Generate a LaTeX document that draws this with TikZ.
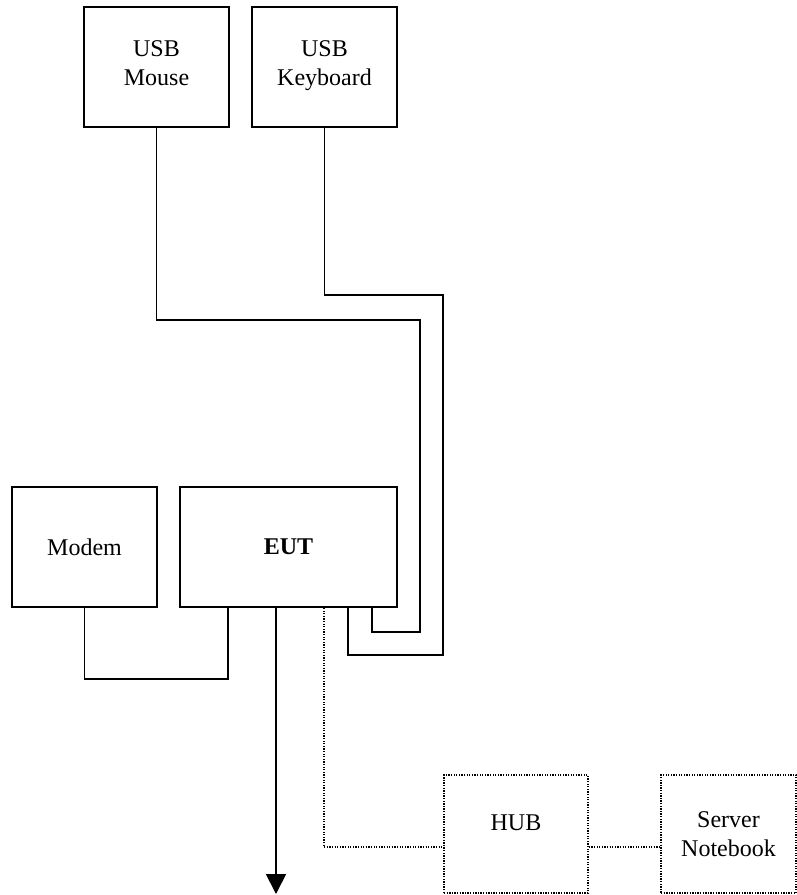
\documentclass[tikz,border=0pt]{standalone}
\usepackage{fontspec}
\setmainfont{Liberation Serif}
\usetikzlibrary{arrows.meta}
\usetikzlibrary{positioning}

\tikzset{
  unit/.style={draw,line width=1.8pt,minimum height=120pt,inner sep=0pt,align=center,
    font=\fontsize{24}{29}\selectfont},
  lanbox/.style={unit,solid,line width=1.4pt,dash pattern=on 1.3pt off 1.3pt,minimum height=118pt},
  cable/.style={line width=1.8pt},
  lan/.style={line width=1.4pt,dash pattern=on 1.3pt off 1.3pt}
}

\begin{document}
\begin{tikzpicture}[line cap=butt,line join=miter,>={Triangle[length=20pt,width=20pt]},x=1pt,y=-1pt]
  \useasboundingbox (0,0) rectangle (797,895);
  % devices
  \node[unit,minimum width=145pt] (mouse) at (156.5,67) {USB\\Mouse\\[-21pt]\mbox{}};
  \node[unit,minimum width=145pt] (keyboard) at (324.5,67) {USB\\Keyboard\\[-21pt]\mbox{}};
  \node[unit,minimum width=145pt] (modem) at (84.5,547) {Modem};
  \node[unit,minimum width=217pt] (eut) at (288.5,547) {\textbf{EUT}};
  \node[lanbox,minimum width=144pt] (hub) at (516,834) {HUB\\[-6pt]\mbox{}};
  \node[lanbox,minimum width=135pt] (server) at (728.5,834) {Server\\Notebook};
  % bends of the cables
  \coordinate (m1) at (420,320);
  \coordinate (m2) at (372,632);
  \coordinate (k1) at (443,295);
  \coordinate (k2) at (348,655);
  \coordinate (d1) at (228,679);
  \coordinate (out) at (276,894);
  \coordinate (l1) at (324,847);
  \draw[cable] (mouse.south) |- (m1) |- (m2) -- (m2 |- eut.south);
  \draw[cable] (keyboard.south) |- (k1) |- (k2) -- (k2 |- eut.south);
  \draw[cable] (modem.south) |- (d1) -- (d1 |- eut.south);
  \draw[cable,->] (out |- eut.south) -- (out);
  \draw[lan] (l1 |- eut.south) -- (l1) -- (l1 -| hub.west);
  \draw[lan] (hub.east |- l1) -- (server.west |- l1);
\end{tikzpicture}
\end{document}
